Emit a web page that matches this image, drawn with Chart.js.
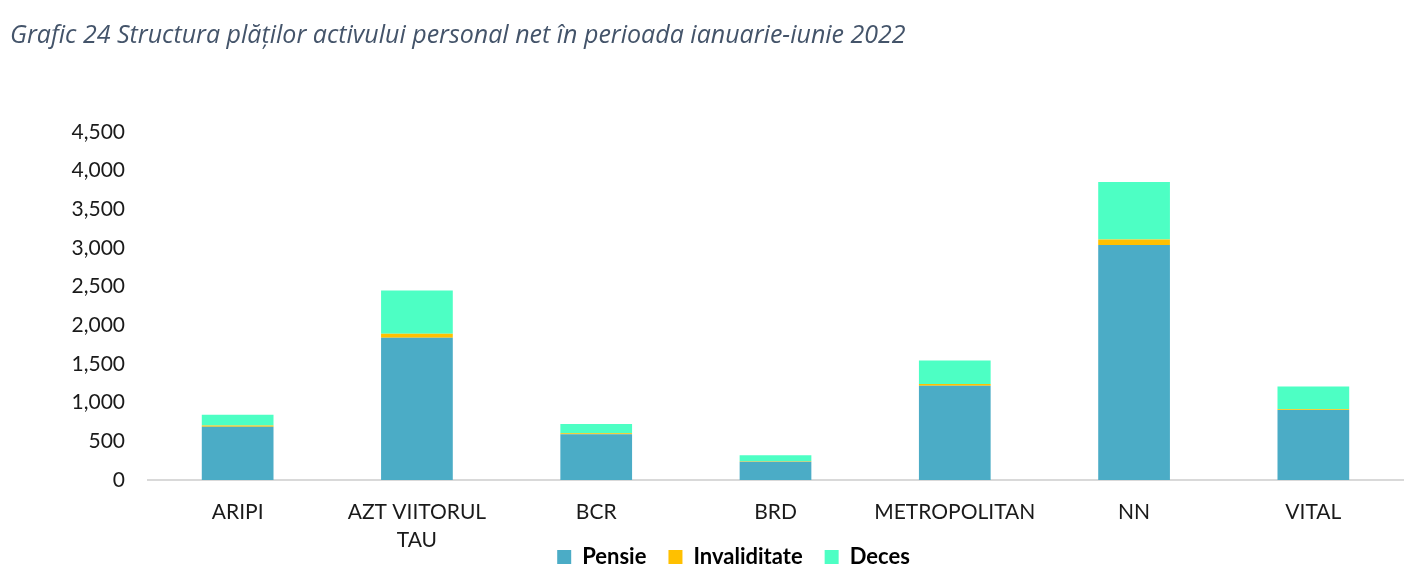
<!DOCTYPE html>
<html>
<head>
<meta charset="utf-8">
<script src="https://cdn.jsdelivr.net/npm/chart.js@4.4.0/dist/chart.umd.min.js"></script>
<style>
  html, body { margin: 0; padding: 0; background: #fff; }
  #wrap { width: 1423px; height: 586px; position: relative; }
</style>
</head>
<body>
<div id="wrap"><canvas id="chart"></canvas></div>
<script>
const categories = ['ARIPI', ['AZT VIITORUL', 'TAU'], 'BCR', 'BRD', 'METROPOLITAN', 'NN', 'VITAL'];
const pensie = [690, 1840, 593, 237, 1220, 3040, 904];
const invaliditate = [15, 50, 10, 4, 20, 70, 10];
const deces = [140, 560, 120, 80, 305, 745, 296];
const titleText = 'Grafic 24 Structura plăților activului personal net în perioada ianuarie-iunie 2022';

// let the two-line x label run into the legend band instead of being clipped,
// and nudge the legend a bit right like in the original
const layoutTweaks = {
  id: 'layoutTweaks',
  afterLayout(chart) {
    chart.scales.x.bottom = chart.height;
    chart.legend.left += 54;
  }
};

const ctx = document.getElementById('chart').getContext('2d');
new Chart(ctx, {
  type: 'bar',
  data: {
    labels: categories,
    datasets: [
      { label: 'Pensie', data: pensie, backgroundColor: '#4BACC6' },
      { label: 'Invaliditate', data: invaliditate, backgroundColor: '#FFC000' },
      { label: 'Deces', data: deces, backgroundColor: '#4DFFC4' }
    ]
  },
  options: {
    responsive: true,
    maintainAspectRatio: false,
    animation: false,
    datasets: { bar: { barPercentage: 0.4, categoryPercentage: 1 } },
    layout: { padding: { left: 10, right: 20, top: 21, bottom: 8 } },
    scales: {
      x: {
        stacked: true,
        grid: { display: false, drawTicks: false },
        border: { color: '#d9d9d9', width: 2 },
        ticks: {
          color: '#1a1a1a',
          font: { family: 'Lato', size: 21, lineHeight: 1.35 },
          padding: 18,
          maxRotation: 0
        },
        afterFit: s => { s.height = 44; }
      },
      y: {
        stacked: true,
        min: 0,
        max: 4500,
        grid: { display: false, drawTicks: false },
        border: { display: false },
        ticks: {
          stepSize: 500,
          color: '#1a1a1a',
          font: { family: 'Lato', size: 21 },
          padding: 23,
          callback: v => v.toLocaleString('en-US')
        },
        afterFit: s => { s.width = 138; }
      }
    },
    plugins: {
      title: {
        display: true,
        text: titleText,
        align: 'start',
        color: '#44546A',
        font: { family: 'Open Sans', size: 25, style: 'italic', weight: 'normal' },
        padding: { top: 0, bottom: 81 }
      },
      legend: {
        position: 'bottom',
        labels: {
          color: '#000',
          boxWidth: 14,
          boxHeight: 14,
          padding: 22,
          font: { family: 'Lato', size: 22, weight: 'bold' }
        }
      },
      tooltip: { enabled: false }
    }
  },
  plugins: [layoutTweaks]
});
</script>
</body>
</html>
